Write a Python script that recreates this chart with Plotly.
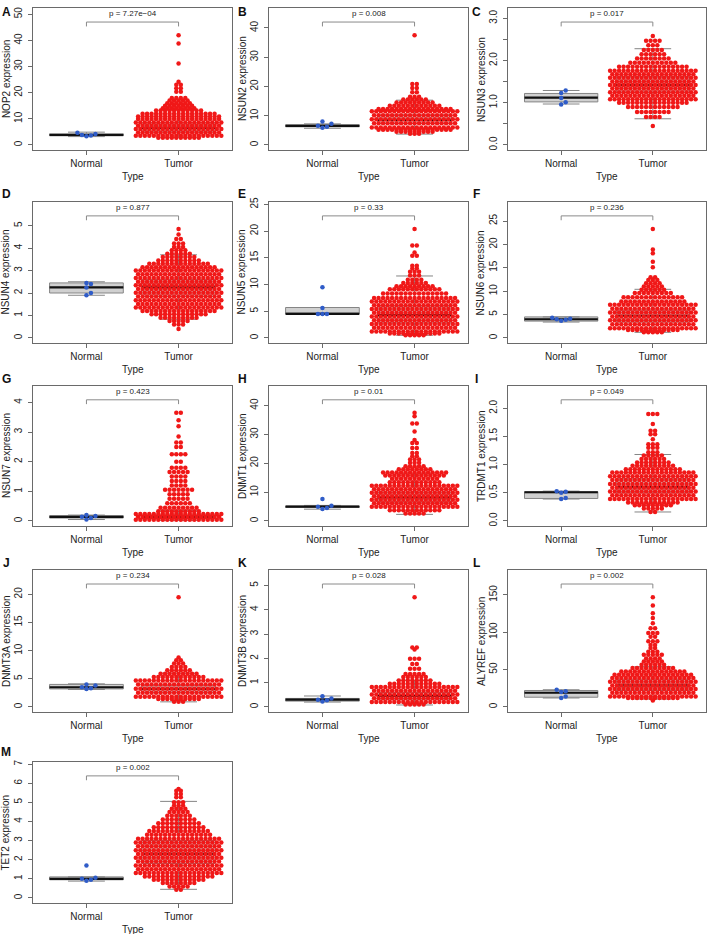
import plotly.graph_objects as go

W, H = 709, 934

# ---------------- data ----------------
genes = ["NOP2", "NSUN2", "NSUN3", "NSUN4", "NSUN5", "NSUN6", "NSUN7",
         "DNMT1", "TRDMT1", "DNMT3A", "DNMT3B", "ALYREF", "TET2"]
letters = ["A", "B", "C", "D", "E", "F", "G", "H", "I", "J", "K", "L", "M"]
groups = ["Normal", "Tumor"]
p_labels = ["p = 7.27e\u221204", "p = 0.008", "p = 0.017", "p = 0.877", "p = 0.33",
            "p = 0.236", "p = 0.423", "p = 0.01", "p = 0.049", "p = 0.234",
            "p = 0.028", "p = 0.002", "p = 0.002"]
y_max = [42, 37.5, 2.6, 4.85, 20.4, 23.3, 3.65, 37.5, 1.92, 19.5, 4.52, 147, 5.7]

y_tickvals = [
    [0, 10, 20, 30, 40, 50], [0, 10, 20, 30, 40], [0, 0.5, 1, 1.5, 2, 2.5, 3],
    [0, 1, 2, 3, 4, 5], [0, 5, 10, 15, 20, 25], [0, 5, 10, 15, 20, 25],
    [0, 1, 2, 3, 4], [0, 10, 20, 30, 40], [0, 0.5, 1, 1.5, 2],
    [0, 5, 10, 15, 20], [0, 1, 2, 3, 4, 5], [0, 50, 100, 150],
    [0, 1, 2, 3, 4, 5, 6, 7]]
y_ticktext = [
    ["0", "10", "20", "30", "40", "50"], ["0", "10", "20", "30", "40"],
    ["0.0", "", "1.0", "", "2.0", "", "3.0"], ["0", "1", "2", "3", "4", "5"],
    ["0", "5", "10", "15", "20", "25"], ["0", "5", "10", "15", "20", "25"],
    ["0", "1", "2", "3", "4"], ["0", "10", "20", "30", "40"],
    ["0.0", "0.5", "1.0", "1.5", "2.0"], ["0", "5", "10", "15", "20"],
    ["0", "1", "2", "3", "4", "5"], ["0", "50", "100", "150"],
    ["0", "1", "2", "3", "4", "5", "6", "7"]]

# box stats: [lower whisker, Q1, median, Q3, upper whisker]
# tumor bands: (low, high, dots per row) ; tumor rows: (value, dots in row)
NOP2_normal = [3.3, 3.6, 3.8, 4.2, 4.7]
NOP2_normal_box = [3.2, 3.5, 3.8, 4.3, 4.9]
NOP2_tumor_box = [2.9, 5.0, 6.5, 8.5, 13.5]
NOP2_tumor_bands = [(3.5, 9.9, 20)]
NOP2_tumor_rows = [(2.8, 10), (10.9, 19), (11.9, 17), (13.2, 11), (14.0, 8), (15.0, 7),
                   (16.0, 6), (17.0, 5), (18.0, 4), (20.4, 2), (21.7, 2), (23.0, 2),
                   (24.2, 1), (31.2, 1), (38.8, 1), (42.0, 1)]

NSUN2_normal = [5.9, 6.2, 6.6, 7.2, 8.0]
NSUN2_normal_box = [5.7, 6.2, 6.5, 6.9, 7.2]
NSUN2_tumor_box = [3.7, 7.3, 8.6, 10.3, 15.3]
NSUN2_tumor_bands = [(6.0, 11.5, 20)]
NSUN2_tumor_rows = [(5.2, 17), (4.5, 9), (3.8, 3), (12.3, 17), (13.4, 12), (14.5, 9),
                    (15.5, 6), (16.5, 3), (18.0, 2), (19.5, 2), (20.8, 2), (37.5, 1)]

NSUN3_normal = [0.96, 1.01, 1.11, 1.23, 1.29]
NSUN3_normal_box = [0.97, 1.02, 1.12, 1.22, 1.29]
NSUN3_tumor_box = [0.62, 1.25, 1.42, 1.62, 2.28]
NSUN3_tumor_bands = [(1.08, 1.76, 20)]
NSUN3_tumor_rows = [(1.0, 16), (0.9, 12), (0.78, 8), (0.66, 4), (0.45, 1), (1.85, 16),
                    (1.95, 11), (2.05, 8), (2.15, 6), (2.25, 5), (2.36, 3), (2.47, 4),
                    (2.58, 1)]

NSUN4_normal = [1.9, 2.0, 2.25, 2.4, 2.45]
NSUN4_normal_box = [1.9, 2.0, 2.25, 2.45, 2.5]
NSUN4_tumor_box = [0.83, 1.85, 2.25, 2.6, 3.7]
NSUN4_tumor_bands = [(1.35, 3.0, 20)]
NSUN4_tumor_rows = [(1.2, 17), (1.05, 13), (0.9, 9), (0.75, 5), (0.6, 3), (0.4, 1),
                    (3.15, 17), (3.3, 14), (3.45, 10), (3.6, 8), (3.75, 6), (3.9, 4),
                    (4.05, 3), (4.2, 3), (4.4, 2), (4.6, 1), (4.85, 1)]

NSUN5_normal = [9.5, 5.6, 4.5, 4.5, 4.5]
NSUN5_normal_box = [4.5, 4.5, 4.5, 5.7, 5.7]
NSUN5_tumor_box = [0.5, 2.8, 4.3, 6.0, 11.6]
NSUN5_tumor_bands = [(1.2, 7.5, 20)]
NSUN5_tumor_rows = [(0.85, 12), (0.5, 5), (8.3, 15), (9.1, 12), (9.7, 9), (10.3, 6),
                    (10.9, 4), (11.7, 3), (12.4, 3), (13.0, 2), (13.5, 2), (15.4, 2),
                    (16.0, 1), (17.3, 2), (20.4, 1)]

NSUN6_normal = [3.7, 3.9, 4.0, 4.1, 4.3]
NSUN6_normal_box = [3.4, 3.6, 4.0, 4.5, 4.5]
NSUN6_tumor_box = [1.2, 3.4, 4.7, 6.0, 10.4]
NSUN6_tumor_bands = [(2.1, 7.1, 20)]
NSUN6_tumor_rows = [(1.7, 12), (1.2, 5), (7.8, 15), (8.7, 14), (9.6, 9), (10.3, 6),
                    (11.0, 5), (11.7, 4), (12.4, 3), (13.0, 2), (15.1, 1), (16.3, 1),
                    (18.1, 1), (18.9, 1), (23.3, 1)]

NSUN7_normal = [0.05, 0.1, 0.14, 0.17, 0.2]
NSUN7_normal_box = [0.05, 0.1, 0.14, 0.18, 0.2]
NSUN7_tumor_box = [0.02, 0.08, 0.13, 0.2, 0.35]
NSUN7_tumor_bands = [(0.04, 0.24, 20)]
NSUN7_tumor_rows = [(0.33, 10), (0.45, 9), (0.6, 6), (0.75, 5), (0.9, 5), (1.05, 7),
                    (1.2, 4), (1.35, 4), (1.5, 4), (1.65, 5), (1.8, 4), (2.0, 2),
                    (2.25, 4), (2.5, 2), (2.65, 2), (2.85, 1), (3.2, 1), (3.4, 1), (3.65, 2)]

DNMT1_normal = [4.2, 4.5, 4.9, 5.3, 7.6]
DNMT1_normal_box = [4.1, 4.7, 5.0, 5.2, 5.4]
DNMT1_tumor_box = [2.3, 6.5, 8.2, 10.0, 16.4]
DNMT1_tumor_bands = [(4.9, 12.2, 20)]
DNMT1_tumor_rows = [(3.7, 12), (2.6, 5), (13.4, 12), (14.6, 11), (15.8, 14), (16.8, 15),
                    (17.9, 8), (19.0, 5), (20.2, 3), (21.3, 3), (22.4, 2), (23.6, 2),
                    (25.3, 2), (27.0, 2), (28.1, 1), (31.0, 1), (33.8, 2), (36.3, 1),
                    (37.5, 1)]

TRDMT1_normal = [0.39, 0.41, 0.5, 0.52, 0.53]
TRDMT1_normal_box = [0.39, 0.4, 0.51, 0.52, 0.53]
TRDMT1_tumor_box = [0.16, 0.5, 0.6, 0.75, 1.18]
TRDMT1_tumor_bands = [(0.39, 0.86, 20)]
TRDMT1_tumor_rows = [(0.33, 12), (0.28, 9), (0.22, 5), (0.16, 2), (0.92, 13), (0.98, 10),
                     (1.04, 8), (1.1, 6), (1.16, 5), (1.22, 3), (1.3, 3), (1.36, 3),
                     (1.45, 1), (1.54, 2), (1.6, 2), (1.72, 1), (1.9, 3)]

DNMT3A_normal = [3.2, 3.3, 3.5, 3.8, 4.0]
DNMT3A_normal_box = [3.1, 3.2, 3.5, 4.0, 4.1]
DNMT3A_tumor_box = [0.9, 2.6, 3.2, 3.8, 6.0]
DNMT3A_tumor_bands = [(1.8, 4.7, 20)]
DNMT3A_tumor_rows = [(1.4, 10), (0.9, 3), (5.3, 12), (5.9, 9), (6.5, 6), (7.1, 4),
                     (7.7, 3), (8.3, 2), (8.8, 1), (19.5, 1)]

DNMT3B_normal = [0.22, 0.27, 0.3, 0.35, 0.44]
DNMT3B_normal_box = [0.2, 0.24, 0.3, 0.35, 0.45]
DNMT3B_tumor_box = [0.08, 0.32, 0.45, 0.6, 1.1]
DNMT3B_tumor_bands = [(0.2, 0.82, 20)]
DNMT3B_tumor_rows = [(0.1, 5), (0.95, 12), (1.09, 8), (1.23, 6), (1.36, 5), (1.57, 3),
                     (1.77, 2), (1.98, 3), (2.36, 1), (2.45, 2), (4.52, 1)]

ALYREF_normal = [12, 14, 20, 21, 23]
ALYREF_normal_box = [12, 13, 19, 22, 23]
ALYREF_tumor_box = [10.5, 22, 29, 37, 54]
ALYREF_tumor_bands = [(14, 38.7, 20)]
ALYREF_tumor_rows = [(12, 12), (8.5, 1), (43, 18), (47.6, 15), (52, 10), (56.5, 6),
                     (61, 5), (65, 4), (70, 5), (74, 3), (79, 2), (83, 2), (88, 3),
                     (94, 2), (99, 3), (105.5, 2), (112, 1), (119, 1), (125.5, 1),
                     (135.7, 1), (147, 1)]

TET2_normal = [0.9, 0.95, 1.0, 1.05, 1.7]
TET2_normal_box = [0.88, 0.95, 1.0, 1.1, 1.1]
TET2_tumor_box = [0.45, 1.8, 2.3, 3.0, 5.05]
TET2_tumor_bands = [(1.3, 3.1, 20)]
TET2_tumor_rows = [(1.12, 16), (0.95, 12), (0.78, 8), (0.6, 5), (0.43, 2), (3.3, 15),
                   (3.5, 14), (3.7, 12), (3.9, 10), (4.1, 8), (4.3, 6), (4.5, 5),
                   (4.66, 4), (4.84, 3), (5.0, 3), (5.27, 2), (5.44, 2), (5.6, 2), (5.7, 1)]

panels = [
    (NOP2_normal, NOP2_normal_box, NOP2_tumor_box, NOP2_tumor_bands, NOP2_tumor_rows),
    (NSUN2_normal, NSUN2_normal_box, NSUN2_tumor_box, NSUN2_tumor_bands, NSUN2_tumor_rows),
    (NSUN3_normal, NSUN3_normal_box, NSUN3_tumor_box, NSUN3_tumor_bands, NSUN3_tumor_rows),
    (NSUN4_normal, NSUN4_normal_box, NSUN4_tumor_box, NSUN4_tumor_bands, NSUN4_tumor_rows),
    (NSUN5_normal, NSUN5_normal_box, NSUN5_tumor_box, NSUN5_tumor_bands, NSUN5_tumor_rows),
    (NSUN6_normal, NSUN6_normal_box, NSUN6_tumor_box, NSUN6_tumor_bands, NSUN6_tumor_rows),
    (NSUN7_normal, NSUN7_normal_box, NSUN7_tumor_box, NSUN7_tumor_bands, NSUN7_tumor_rows),
    (DNMT1_normal, DNMT1_normal_box, DNMT1_tumor_box, DNMT1_tumor_bands, DNMT1_tumor_rows),
    (TRDMT1_normal, TRDMT1_normal_box, TRDMT1_tumor_box, TRDMT1_tumor_bands, TRDMT1_tumor_rows),
    (DNMT3A_normal, DNMT3A_normal_box, DNMT3A_tumor_box, DNMT3A_tumor_bands, DNMT3A_tumor_rows),
    (DNMT3B_normal, DNMT3B_normal_box, DNMT3B_tumor_box, DNMT3B_tumor_bands, DNMT3B_tumor_rows),
    (ALYREF_normal, ALYREF_normal_box, ALYREF_tumor_box, ALYREF_tumor_bands, ALYREF_tumor_rows),
    (TET2_normal, TET2_normal_box, TET2_tumor_box, TET2_tumor_bands, TET2_tumor_rows),
]

# ---------------- layout geometry (pixels) ----------------
col_left = [33, 269, 508]
col_right = [232, 468, 706]
row_top = [3, 198, 383, 568, 761]
row_bot = [146, 340, 524, 711, 903]
letter_x = [6, 242, 477]
letter_y = [7, 190, 376, 561, 751]

FONT = "Liberation Sans, Arial, Helvetica, sans-serif"
RED = "#F01818"
BLUE = "#2F5CC8"
BOX_FILL = "#D0D0D0"
BOX_LINE = "#858585"
FRAME = "#6A6A6A"
TEXT = "#222222"
DOT = 4.5          # marker diameter, px
ROW_STEP = 3.7     # vertical spacing of packed rows, px
X_RANGE = [0.42, 2.58]
BOX_W = 0.8

fig = go.Figure()
annotations = []
shapes = []


def beeswarm(vals, center, ppx, ppy):
    placed = []
    xs, ys = [], []
    for v in sorted(vals):
        yp = v * ppy
        k = 0
        while True:
            step = (k + 1) // 2 * (1 if k % 2 == 1 else -1)
            xp = step * DOT / 2.0
            if all((xp - a) ** 2 + (yp - b) ** 2 >= (DOT * 0.95) ** 2 for a, b in placed):
                break
            k += 1
        placed.append((xp, yp))
        xs.append(center + xp / ppx)
        ys.append(v)
    return xs, ys


def row_points(center, y, n, dx):
    return [center + (i - (n - 1) / 2.0) * dx for i in range(n)], [y] * n


for i, gene in enumerate(genes):
    r, c = divmod(i, 3)
    left, right, top, bot = col_left[c], col_right[c], row_top[r], row_bot[r]
    L = 1.2 * y_max[i]
    yr = [-0.04 * L, 1.04 * L]
    ppx = (right - left) / (X_RANGE[1] - X_RANGE[0])
    ppy = (bot - top) / (yr[1] - yr[0])
    dx = DOT / ppx
    sfx = "" if i == 0 else str(i + 1)
    xa, ya = "x" + sfx, "y" + sfx
    normal, nbox, tbox, tbands, trows = panels[i]

    # boxes
    for gx, st in ((1, nbox), (2, tbox)):
        fig.add_trace(go.Box(
            x=[gx], lowerfence=[st[0]], q1=[st[1]], median=[st[2]], q3=[st[3]],
            upperfence=[st[4]], width=BOX_W, whiskerwidth=0.5, boxpoints=False,
            fillcolor=BOX_FILL, line=dict(color=BOX_LINE, width=1),
            xaxis=xa, yaxis=ya, showlegend=False, hoverinfo="skip"))
    for gx, st in ((1, nbox), (2, tbox)):
        fig.add_trace(go.Scatter(
            x=[gx - BOX_W / 2, gx + BOX_W / 2], y=[st[2], st[2]], mode="lines",
            line=dict(color="#111111", width=2.2), xaxis=xa, yaxis=ya,
            showlegend=False, hoverinfo="skip"))

    # tumor swarm
    tx, ty = [], []
    for lo, hi, n in tbands:
        k = max(2, int(round((hi - lo) * ppy / ROW_STEP)) + 1)
        for j in range(k):
            yv = lo + (hi - lo) * j / (k - 1)
            nn = n if j % 2 == 0 else n - 1
            a, b = row_points(2, yv, nn, dx)
            tx += a
            ty += b
    for yv, n in trows:
        a, b = row_points(2, yv, n, dx)
        tx += a
        ty += b
    fig.add_trace(go.Scatter(
        x=tx, y=ty, mode="markers", marker=dict(color=RED, size=DOT, line=dict(width=0)),
        xaxis=xa, yaxis=ya, showlegend=False, hoverinfo="skip"))

    # normal swarm
    nx, ny = beeswarm(normal, 1, ppx, ppy)
    fig.add_trace(go.Scatter(
        x=nx, y=ny, mode="markers", marker=dict(color=BLUE, size=DOT, line=dict(width=0)),
        xaxis=xa, yaxis=ya, showlegend=False, hoverinfo="skip"))

    # axes
    axis_common = dict(showline=True, linecolor=FRAME, linewidth=1, mirror=True,
                       ticks="outside", ticklen=4, tickcolor=FRAME, tickwidth=1,
                       showgrid=False, zeroline=False, fixedrange=True,
                       tickfont=dict(family=FONT, size=10, color=TEXT))
    fig.update_layout(**{
        "xaxis" + sfx: dict(domain=[left / W, right / W], range=X_RANGE,
                            tickmode="array", tickvals=[1, 2], ticktext=groups,
                            anchor=ya, **axis_common),
        "yaxis" + sfx: dict(domain=[1 - bot / H, 1 - top / H], range=yr,
                            tickmode="array", tickvals=y_tickvals[i],
                            ticktext=y_ticktext[i], tickangle=-90,
                            ticklabelstandoff=2, anchor=xa, **axis_common),
    })

    # significance bracket
    y_line, y_end = 1.12 * y_max[i], 1.08 * y_max[i]
    shapes.append(dict(type="path", xref=xa, yref=ya,
                       path=f"M 1,{y_end} L 1,{y_line} L 2,{y_line} L 2,{y_end}",
                       line=dict(color="#8A8A8A", width=1)))
    annotations.append(dict(x=1.5, y=L, xref=xa, yref=ya, text=p_labels[i],
                            showarrow=False, xanchor="center", yanchor="middle",
                            font=dict(family=FONT, size=8, color=TEXT)))

    # titles
    annotations.append(dict(x=(left + right) / 2 / W, y=1 - (bot + 26) / H,
                            xref="paper", yref="paper", text="Type", showarrow=False,
                            xanchor="center", yanchor="middle",
                            font=dict(family=FONT, size=10, color=TEXT)))
    annotations.append(dict(x=(left - 27) / W, y=1 - (top + bot) / 2 / H,
                            xref="paper", yref="paper", text=f"{gene} expression",
                            textangle=-90, showarrow=False, xanchor="center",
                            yanchor="middle", font=dict(family=FONT, size=10, color=TEXT)))
    annotations.append(dict(x=letter_x[c] / W, y=1 - letter_y[r] / H,
                            xref="paper", yref="paper", text=f"<b>{letters[i]}</b>",
                            showarrow=False, xanchor="center", yanchor="middle",
                            font=dict(family=FONT, size=12, color="#111111")))

fig.update_layout(width=W, height=H, margin=dict(l=0, r=0, t=0, b=0),
                  paper_bgcolor="white", plot_bgcolor="white",
                  annotations=annotations, shapes=shapes, showlegend=False)

fig.write_html("out.html",
               config={"displayModeBar": False, "staticPlot": True},
               post_script="document.body.style.margin='0px';"
                           "document.body.style.padding='0px';"
                           "document.body.style.overflow='hidden';")
